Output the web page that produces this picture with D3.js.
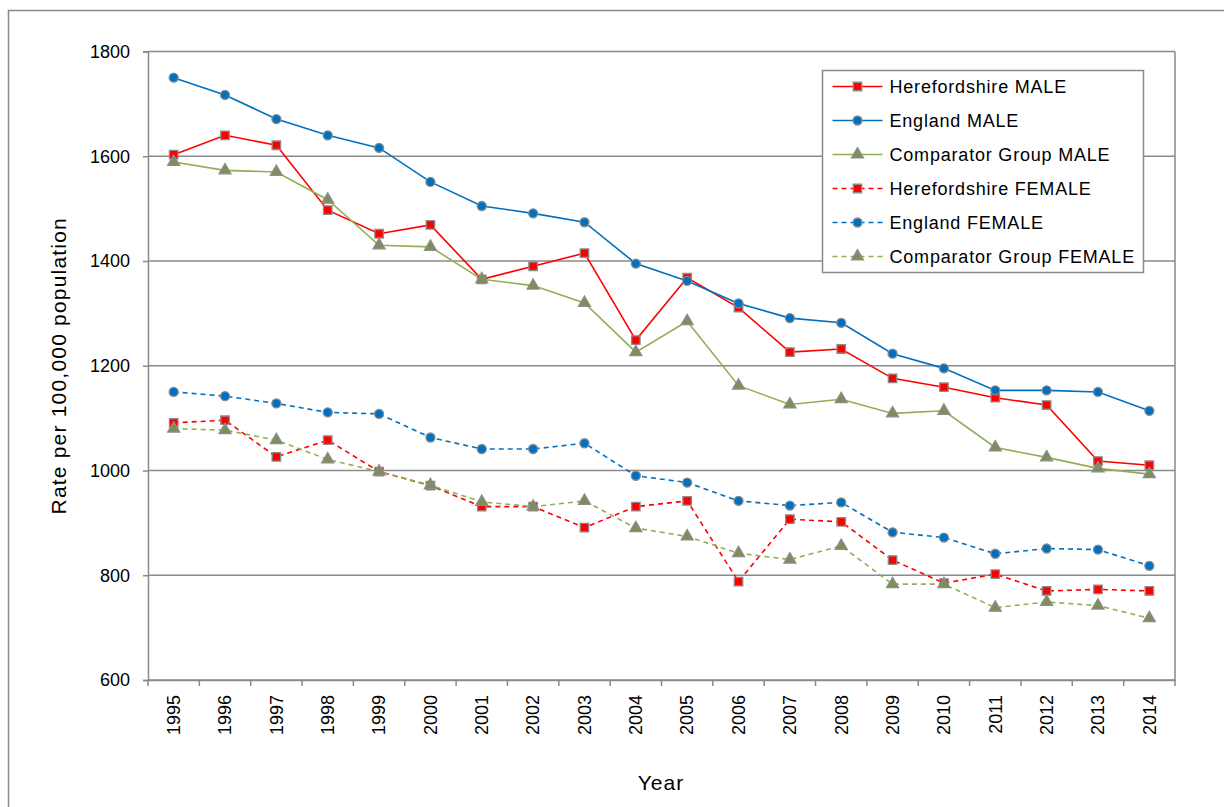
<!DOCTYPE html>
<html>
<head>
<meta charset="utf-8">
<script src="https://cdn.jsdelivr.net/npm/d3@7"></script>
<style>
  body { margin: 0; background: #fff; }
  text { font-family: "Liberation Sans", Arial, sans-serif; fill: #000; }
</style>
</head>
<body>
<div id="chart"></div>
<script>
// data
var years = [1995, 1996, 1997, 1998, 1999, 2000, 2001, 2002, 2003, 2004,
             2005, 2006, 2007, 2008, 2009, 2010, 2011, 2012, 2013, 2014];
var herefordMale   = [1603, 1640, 1621, 1497, 1452, 1469, 1365, 1390, 1415, 1249,
                      1368, 1311, 1226, 1232, 1176, 1159, 1139, 1125, 1018, 1010];
var englandMale    = [1750, 1717, 1671, 1640, 1616, 1551, 1505, 1491, 1474, 1395,
                      1362, 1319, 1291, 1282, 1223, 1195, 1153, 1153, 1150, 1114];
var compMale       = [1589, 1573, 1570, 1517, 1430, 1427, 1365, 1353, 1320, 1226,
                      1285, 1162, 1126, 1136, 1109, 1114, 1044, 1025, 1004, 993];
var herefordFemale = [1091, 1096, 1026, 1058, 998, 971, 931, 931, 891, 931,
                      942, 788, 907, 902, 829, 785, 802, 770, 773, 770];
var englandFemale  = [1150, 1142, 1128, 1111, 1108, 1063, 1041, 1041, 1052, 990,
                      977, 942, 933, 939, 882, 872, 841, 851, 849, 818];
var compFemale     = [1080, 1077, 1058, 1021, 998, 972, 940, 931, 942, 890,
                      874, 842, 830, 856, 783, 783, 738, 749, 742, 718];
var yTicks = [600, 800, 1000, 1200, 1400, 1600, 1800];

var seriesNames = ["Herefordshire MALE", "England MALE", "Comparator Group MALE",
                   "Herefordshire FEMALE", "England FEMALE", "Comparator Group FEMALE"];
var seriesValues = [herefordMale, englandMale, compMale, herefordFemale, englandFemale, compFemale];

// style per series
var styles = [
  {line: "#ff0000", fill: "#ff0000", shape: d3.symbolSquare,   size: 72, dash: null},
  {line: "#0070c0", fill: "#0070c0", shape: d3.symbolCircle,   size: 64, dash: null},
  {line: "#8fb052", fill: "#7c8f58", shape: d3.symbolTriangle, size: 62, dash: null},
  {line: "#ff0000", fill: "#ff0000", shape: d3.symbolSquare,   size: 72, dash: "5,4"},
  {line: "#0070c0", fill: "#0070c0", shape: d3.symbolCircle,   size: 64, dash: "5,4"},
  {line: "#8fb052", fill: "#7c8f58", shape: d3.symbolTriangle, size: 62, dash: "5,4"}
];

var W = 1224, H = 807;
var margin = {top: 51.5, right: 49, bottom: 127, left: 148};
var width = W - margin.left - margin.right,
    height = H - margin.top - margin.bottom;
var grey = "#8a8a8a";

var svg = d3.select("#chart").append("svg")
    .attr("width", W)
    .attr("height", H);

// outer chart frame
svg.append("rect")
    .attr("x", 8.5).attr("y", 10.5)
    .attr("width", 1300).attr("height", 900)
    .attr("fill", "none")
    .attr("stroke", grey)
    .attr("stroke-width", 1.5);

var g = svg.append("g")
    .attr("transform", "translate(" + margin.left + "," + margin.top + ")");

var x = d3.scaleBand()
    .domain(years)
    .range([0, width]);

var y = d3.scaleLinear()
    .domain([600, 1800])
    .range([height, 0]);

// gridlines
g.selectAll(".grid")
  .data(yTicks)
  .enter().append("line")
    .attr("x1", 0).attr("x2", width)
    .attr("y1", function(d) { return y(d); })
    .attr("y2", function(d) { return y(d); })
    .attr("stroke", grey)
    .attr("stroke-width", 1.5);

// right border of plot area
g.append("line")
    .attr("x1", width).attr("x2", width)
    .attr("y1", 0).attr("y2", height)
    .attr("stroke", grey).attr("stroke-width", 1.5);

// y axis
var yAxis = g.append("g")
    .call(d3.axisLeft(y).tickValues(yTicks).tickSize(5).tickPadding(13).tickFormat(d3.format("d")));
yAxis.select(".domain").attr("stroke", grey).attr("stroke-width", 1.5);
yAxis.selectAll(".tick line").attr("stroke", grey).attr("stroke-width", 1.5);
yAxis.selectAll("text")
    .style("font-size", "18px")
    .style("font-family", "'Liberation Sans', Arial, sans-serif");

// x axis (labels centered in bands, ticks on band edges)
var xAxis = g.append("g")
    .attr("transform", "translate(0," + height + ")")
    .call(d3.axisBottom(x).tickSize(0).tickPadding(0));
xAxis.select(".domain").attr("stroke", grey).attr("stroke-width", 1.5);
xAxis.selectAll("text")
    .attr("transform", "rotate(-90)")
    .attr("x", -15)
    .attr("y", 0)
    .attr("dy", "0.35em")
    .style("text-anchor", "end")
    .style("font-size", "18px")
    .style("font-family", "'Liberation Sans', Arial, sans-serif");

var edges = years.map(function(d) { return x(d); }).concat([width]);
xAxis.selectAll(".edge")
  .data(edges)
  .enter().append("line")
    .attr("x1", function(d) { return d; })
    .attr("x2", function(d) { return d; })
    .attr("y1", 0).attr("y2", 6)
    .attr("stroke", grey).attr("stroke-width", 1.5);

// axis titles
svg.append("text")
    .attr("transform", "translate(66," + (margin.top + height / 2) + ") rotate(-90)")
    .style("text-anchor", "middle")
    .style("font-size", "21px")
    .style("letter-spacing", "1.2px")
    .text("Rate per 100,000 population");

svg.append("text")
    .attr("x", 661)
    .attr("y", 790)
    .style("text-anchor", "middle")
    .style("font-size", "21px")
    .style("letter-spacing", "1px")
    .text("Year");

// lines
var line = d3.line()
    .x(function(d, i) { return x(years[i]) + x.bandwidth() / 2; })
    .y(function(d) { return y(d); });

seriesValues.forEach(function(vals, k) {
  var s = styles[k];
  g.append("path")
    .datum(vals)
    .attr("d", line)
    .attr("fill", "none")
    .attr("stroke", s.line)
    .attr("stroke-width", 1.6)
    .attr("stroke-dasharray", s.dash);
});

// markers drawn after all lines
seriesValues.forEach(function(vals, k) {
  var s = styles[k];
  g.selectAll(".m" + k)
    .data(vals)
    .enter().append("path")
      .attr("d", d3.symbol().type(s.shape).size(s.size))
      .attr("transform", function(d, i) {
        return "translate(" + (x(years[i]) + x.bandwidth() / 2) + "," + y(d) + ")";
      })
      .attr("fill", s.fill)
      .attr("stroke", "#8c8c8c")
      .attr("stroke-width", 1.3);
});

// legend
var legendBox = {x: 822.5, y: 70.5, w: 321, h: 202};
svg.append("rect")
    .attr("x", legendBox.x).attr("y", legendBox.y)
    .attr("width", legendBox.w).attr("height", legendBox.h)
    .attr("fill", "#fff")
    .attr("stroke", grey)
    .attr("stroke-width", 1.5);

var legend = svg.selectAll(".legend")
  .data(seriesNames)
  .enter().append("g")
    .attr("class", "legend")
    .attr("transform", function(d, i) {
      return "translate(" + (legendBox.x + 10) + "," + (legendBox.y + 16 + i * 34) + ")";
    });

legend.append("line")
    .attr("x1", 0).attr("x2", 50)
    .attr("y1", 0).attr("y2", 0)
    .attr("stroke", function(d, i) { return styles[i].line; })
    .attr("stroke-width", 1.6)
    .attr("stroke-dasharray", function(d, i) { return styles[i].dash; });

legend.append("path")
    .attr("d", function(d, i) { return d3.symbol().type(styles[i].shape).size(styles[i].size)(); })
    .attr("transform", "translate(25,0)")
    .attr("fill", function(d, i) { return styles[i].fill; })
    .attr("stroke", "#8c8c8c")
    .attr("stroke-width", 1.3);

legend.append("text")
    .attr("x", 57)
    .attr("y", 0)
    .attr("dy", "0.35em")
    .style("font-size", "18px")
    .style("letter-spacing", "0.8px")
    .text(function(d) { return d; });
</script>
</body>
</html>
